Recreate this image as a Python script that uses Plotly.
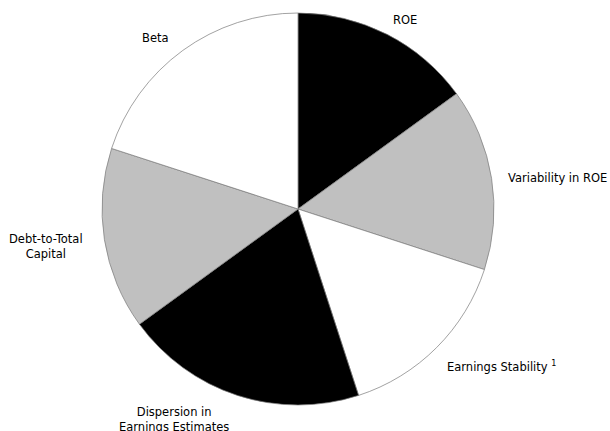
import math
import plotly.graph_objects as go

labels = ["ROE", "Variability in ROE", "Earnings Stability <sup>1</sup>",
          "Dispersion in<br>Earnings Estimates", "Debt-to-Total<br>Capital", "Beta"]
values = [15, 15, 15, 20, 15, 20]
colors = ["#000000", "#c0c0c0", "#ffffff", "#000000", "#c0c0c0", "#ffffff"]

W, H = 610, 431
cx, cy, R = 298, 209, 196  # pixel centre / radius of pie

dom_x = [(cx - R) / W, (cx + R) / W]
dom_y = [(H - cy - R) / H, (H - cy + R) / H]

fig = go.Figure(go.Pie(
    labels=labels, values=values, sort=False, direction="clockwise", rotation=0,
    marker=dict(colors=colors, line=dict(color="#7a7a7a", width=0.7)),
    textinfo="none", hoverinfo="label+percent", showlegend=False,
    domain=dict(x=dom_x, y=dom_y),
))

total = sum(values)
cum = 0
annotations = []
for lab, v in zip(labels, values):
    mid = (cum + v / 2) / total * 2 * math.pi
    cum += v
    r = R * 1.1
    px = cx + r * math.sin(mid)
    py = cy - r * math.cos(mid)
    right = math.sin(mid) > 0
    annotations.append(dict(
        x=px / W, y=1 - py / H, xref="paper", yref="paper", text=lab,
        showarrow=False, xanchor="left" if right else "right",
        yanchor="middle", align="center", borderpad=0,
        xshift=-4 if right else -1, yshift=-3 - 3 * max(0, -math.cos(mid)),
        font=dict(family="DejaVu Sans", size=11.5, color="#000000"),
    ))

fig.update_layout(
    width=W, height=H, margin=dict(l=0, r=0, t=0, b=0),
    paper_bgcolor="white", plot_bgcolor="white",
    annotations=annotations,
)
fig.write_html("out.html")
